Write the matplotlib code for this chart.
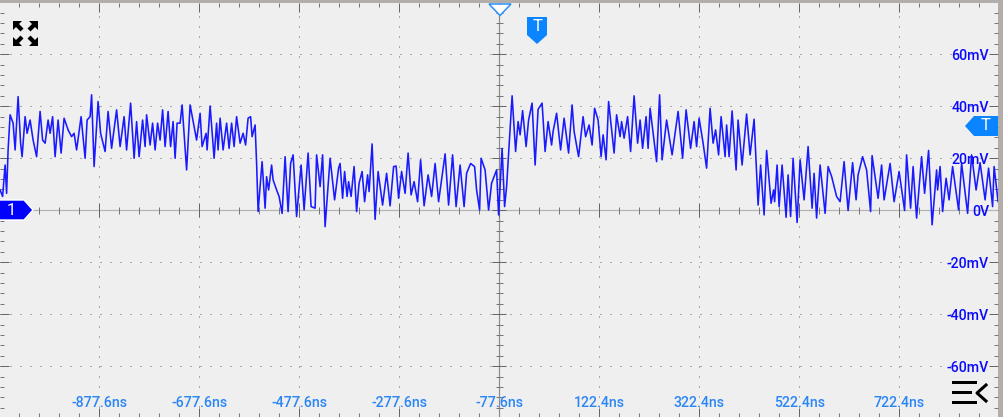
import numpy as np
import matplotlib
matplotlib.use("Agg")
import matplotlib.pyplot as plt
from matplotlib.patches import Polygon, Rectangle
from matplotlib.transforms import Affine2D

W, H = 1004, 417
PX = 0.72  # one pixel in points at dpi 100

# Trace turning points, time in ns and level in mV
trace_ns = [
    -1076, -1071, -1066, -1063, -1060, -1056, -1050, -1046, -1040, -1035, -1032, -1026, -1022, -1016, -1010,
    -1003, -996, -991, -986, -980, -976, -971, -966, -960, -954, -948, -940, -933, -928, -923,
    -914, -906, -902, -896, -893, -888, -880, -875, -866, -860, -853, -843, -836, -828, -823,
    -815, -808, -803, -798, -791, -786, -783, -776, -771, -766, -761, -756, -751, -746, -740,
    -735, -730, -726, -722, -716, -712, -703, -696, -688, -683, -676, -672, -664, -662, -656,
    -648, -643, -640, -636, -630, -623, -618, -613, -608, -603, -596, -590, -585, -580, -575,
    -572, -566, -563, -560, -552, -546, -543, -539, -533, -530, -523, -518, -512, -506, -500,
    -495, -490, -483, -474, -468, -460, -454, -446, -443, -436, -431, -426, -416, -407, -399,
    -396, -391, -387, -382, -379, -374, -368, -363, -358, -352, -347, -341, -338, -332, -326,
    -320, -311, -303, -296, -289, -284, -279, -273, -266, -260, -254, -248, -241, -235, -228,
    -220, -213, -206, -199, -186, -179, -171, -164, -156, -148, -143, -135, -127, -123, -117,
    -114, -106, -99, -93, -83, -79, -72, -67, -63, -56, -52, -45, -40, -36, -31,
    -24, -19, -12, -6, 0, 8, 14, 20, 27, 30, 37, 45, 52, 61, 68,
    72, 81, 90, 95, 102, 108, 113, 120, 126, 130, 136, 141, 152, 157, 164,
    167, 172, 179, 185, 192, 199, 204, 209, 216, 220, 224, 237, 243, 248, 257,
    268, 280, 289, 296, 305, 312, 317, 322, 330, 337, 344, 350, 355, 361, 366,
    374, 377, 382, 388, 396, 400, 408, 417, 424, 432, 440, 445, 452, 457, 466,
    471, 473, 478, 482, 488, 496, 500, 505, 510, 518, 524, 532, 540, 548, 552,
    557, 564, 574, 580, 587, 597, 604, 612, 620, 629, 636, 640, 649, 657, 665,
    668, 680, 687, 692, 704, 712, 722, 733, 737, 745, 750, 757, 767, 773, 781,
    788, 797, 799, 804, 809, 816, 822, 829, 841, 847, 859, 867, 876, 884, 894,
    901, 909, 912, 920,
]
trace_mv = [
    7.8, 5.3, 17.4, 6.5, 23.2, 36.7, 33.5, 23.2, 43.7, 25.8, 20.6, 36, 29.6, 34.7, 27,
    20.6, 38, 27, 25.8, 34.7, 29.6, 36, 20.6, 34.7, 22, 35.4, 30.9, 28.3, 29.6, 23.2,
    36, 20, 34.7, 36, 44.4, 16.8, 41.8, 29.6, 22.6, 38, 23.8, 38.6, 24.5, 36, 23.2,
    41.2, 20, 34.1, 20.6, 34.7, 24.5, 36.7, 25.1, 33.5, 23.2, 33.5, 27, 38.6, 24.5, 38,
    24.5, 34.1, 20, 33.5, 33.5, 40.5, 15.5, 40.5, 32.2, 27, 37.3, 24.5, 29.6, 23.2, 40.1,
    20, 33.5, 23.2, 35.4, 23.2, 33.5, 23.8, 33.5, 24.5, 36, 25.8, 29.6, 25.1, 35.4, 36,
    28.3, 32.8, 18, -0.5, 18.7, 0.8, 12.9, 7.8, 17.4, 11.7, 7.8, 5.3, -1.2, 20.6, -0.5,
    18, 21.3, -2.4, 17.4, 0.1, 22, 1.4, 0.8, 21.3, 9.1, 21.3, -6.3, 20, 4, 16.2,
    18, 4.6, 14.9, 5.3, 11, 5.3, 16.8, -0.5, 10.4, 14.9, 3.3, 13.6, 7.2, 25.5, -3.5,
    14.9, 2, 14.2, 1.7, 16.8, 17, 4.6, 14.9, 6.5, 22, 5.9, 11, 3.3, 19.4, 1.7,
    13.6, 5.3, 18, 3.3, 21.7, 2, 21.3, 1.4, 17.4, 1.4, 14.2, 18, 16.8, 7.8, 0.1,
    20, 15.5, 0.1, 10.4, 15.5, -1.8, 23.8, 1.4, 9.1, 30.9, 44, 22.6, 34.1, 29, 38.3,
    24.5, 34.7, 41.2, 17.4, 38.8, 41.2, 22.6, 34.1, 25.1, 30.3, 37.3, 23.2, 35.4, 22, 40.5,
    30.3, 20.6, 36, 28.3, 32.8, 25.1, 39.2, 34.7, 20.6, 29, 19.4, 41.8, 22, 36.7, 28.3,
    34.1, 27.7, 36, 22.6, 44, 25.8, 34.7, 23.8, 36, 23.8, 39.2, 18.7, 44.4, 19.4, 34.7,
    21.3, 38, 20, 38.6, 23.8, 34.1, 24.5, 35.4, 25.8, 16.2, 39.2, 25.8, 30.9, 21.3, 36,
    20.6, 32.8, 20.6, 38.2, 15.5, 34.7, 17.4, 37, 21.3, 35, 2, 17.4, -1.8, 23, 2.7,
    7.8, 3.3, 17.4, 1.4, 17.4, -2.7, 13.6, -2.4, 20, -4.7, 19.4, 4, 24.5, 0.8, 14.2,
    -3, 17.4, -1.2, 16.8, 13, 5.3, 3.3, 18.7, -0.1, 18.3, 4, 13.6, 20.6, 15.5, -0.5,
    21, 4.6, 17.4, 4, 18, 3.3, 14.9, -0.1, 21.3, 0.8, 16.8, -3, 20.6, 6.5, 23,
    -5.6, 15.5, 7.8, 16.8, -0.5, 12.3, 4, 16.8, 0.1, 18, -1.2, 21.3, 7.8, 18.3, 4,
    16.2, 1.4, 16.8, 3.3,
]

# Axis labels
time_ticks = [-877.6, -677.6, -477.6, -277.6, -77.6, 122.4, 322.4, 522.4, 722.4]
time_labels = ["-877.6ns", "-677.6ns", "-477.6ns", "-277.6ns", "-77.6ns",
               "122.4ns", "322.4ns", "522.4ns", "722.4ns"]
volt_ticks = [60, 40, 20, 0, -20, -40, -60]
volt_labels = ["60mV", "40mV", "20mV", "0V", "-20mV", "-40mV", "-60mV"]

plt.rcParams["font.family"] = ["Roboto", "DejaVu Sans"]

fig = plt.figure(figsize=(W / 100, H / 100), dpi=100, facecolor="#b4aeab")
ax = fig.add_axes([0, 0, 998 / W, 414 / H], facecolor="#efefef")
ax.set_xlim(-1076.2, 919.8)
ax.set_ylim(-79.5, 79.7)
for s in ax.spines.values():
    s.set_visible(False)

# grid and the ticks round the edge
minor_x = np.arange(-1037.6, 919, 40)
minor_y = np.arange(-76, 77, 4)
ax.set_xticks(time_ticks)
ax.set_yticks(volt_ticks)
ax.set_xticks(minor_x, minor=True)
ax.set_yticks(minor_y, minor=True)
ax.set_xticklabels([])
ax.set_yticklabels([])
ax.tick_params(which="major", direction="in", length=9 * PX, width=1 * PX, color="#666666",
               top=True, bottom=True, left=True, right=True)
ax.tick_params(which="minor", direction="in", length=4 * PX, width=1 * PX, color="#777777",
               top=True, bottom=True, left=True, right=True)
ax.grid(True, which="major", color="#666666", lw=1 * PX, ls=(0, (1, 9)))
ax.set_axisbelow(True)

# center cross
ax.axhline(0, color="#b4b4b4", lw=1.2 * PX, zorder=1.5)
ax.axvline(-77.6, color="#8c8c8c", lw=1.2 * PX, zorder=1.5)
ax.plot(minor_x, np.zeros(len(minor_x)), ls="", marker="|", ms=7 * PX, mew=1 * PX, color="#777777", zorder=1.6)
ax.plot(time_ticks, np.zeros(len(time_ticks)), ls="", marker="|", ms=14 * PX, mew=1 * PX, color="#666666", zorder=1.6)
ax.plot(np.full(len(minor_y), -77.6), minor_y, ls="", marker="_", ms=7 * PX, mew=1 * PX, color="#777777", zorder=1.6)
ax.plot(np.full(len(volt_ticks), -77.6), volt_ticks, ls="", marker="_", ms=14 * PX, mew=1 * PX, color="#666666", zorder=1.6)

ax.plot(trace_ns, trace_mv, color="#1a1aff", lw=1.15, solid_joinstyle="round", zorder=3)

for v, lab in zip(volt_ticks, volt_labels):
    ax.annotate(lab, (1, v), xycoords=ax.get_yaxis_transform(), xytext=(-9 * PX, -1.5 * PX),
                textcoords="offset points", ha="right", va="center", color="#0a0aff",
                fontsize=10.2, fontweight="medium", zorder=4)
for t, lab in zip(time_ticks, time_labels):
    ax.annotate(lab, (t, 0), xycoords=ax.get_xaxis_transform(), xytext=(0, 14 * PX),
                textcoords="offset points", ha="center", va="center", color="#2a86f5",
                fontsize=10.2, fontweight="medium", zorder=4)

# overlay widgets, drawn in pixels from the top left
px = Affine2D().scale(1, -1).translate(0, H)


def poly(points, face, edge="none", lw=0.0):
    fig.add_artist(Polygon(points, closed=True, facecolor=face, edgecolor=edge, lw=lw, transform=px, zorder=6))


def label(x, y, s, size=12):
    fig.text(x / W, 1 - y / H, s, color="white", fontsize=size, ha="center", va="center", zorder=7)


blue = "#0a84ff"
poly([(489, 4), (511, 4), (500, 15.5)], "white", "#2a90ff", 1.1)
poly([(527, 17), (547, 17), (547, 35), (537, 44), (527, 35)], blue)
label(537, 26.5, "T")
poly([(998, 116), (974, 116), (965, 126), (974, 136), (998, 136)], blue)
label(985, 126, "T")
poly([(-2, 200), (24, 200), (33, 210), (24, 220), (-2, 220)], "#0000ff", "white", 1.0)
label(11, 210.5, "1")

# fullscreen icon
for sx, sy in [(1, 1), (-1, 1), (1, -1), (-1, -1)]:
    cx, cy = 25.5, 33.5
    p = [(12.5, 12.5), (3.5, 12.5), (6.5, 9.5), (2, 5), (5, 2), (9.5, 6.5), (12.5, 3.5)]
    poly([(cx - sx * a, cy - sy * b) for a, b in p], "black")

# menu icon
for y, x1 in [(382, 977), (392, 972), (402.5, 977)]:
    fig.add_artist(Rectangle((952, y - 1.5), x1 - 952, 3, facecolor="black", transform=px, zorder=6))
fig.add_artist(plt.Line2D([986, 977, 986], [385, 393, 401], color="black", lw=2.2, transform=px, zorder=6))

fig.savefig("out.png", dpi=100, facecolor=fig.get_facecolor())
